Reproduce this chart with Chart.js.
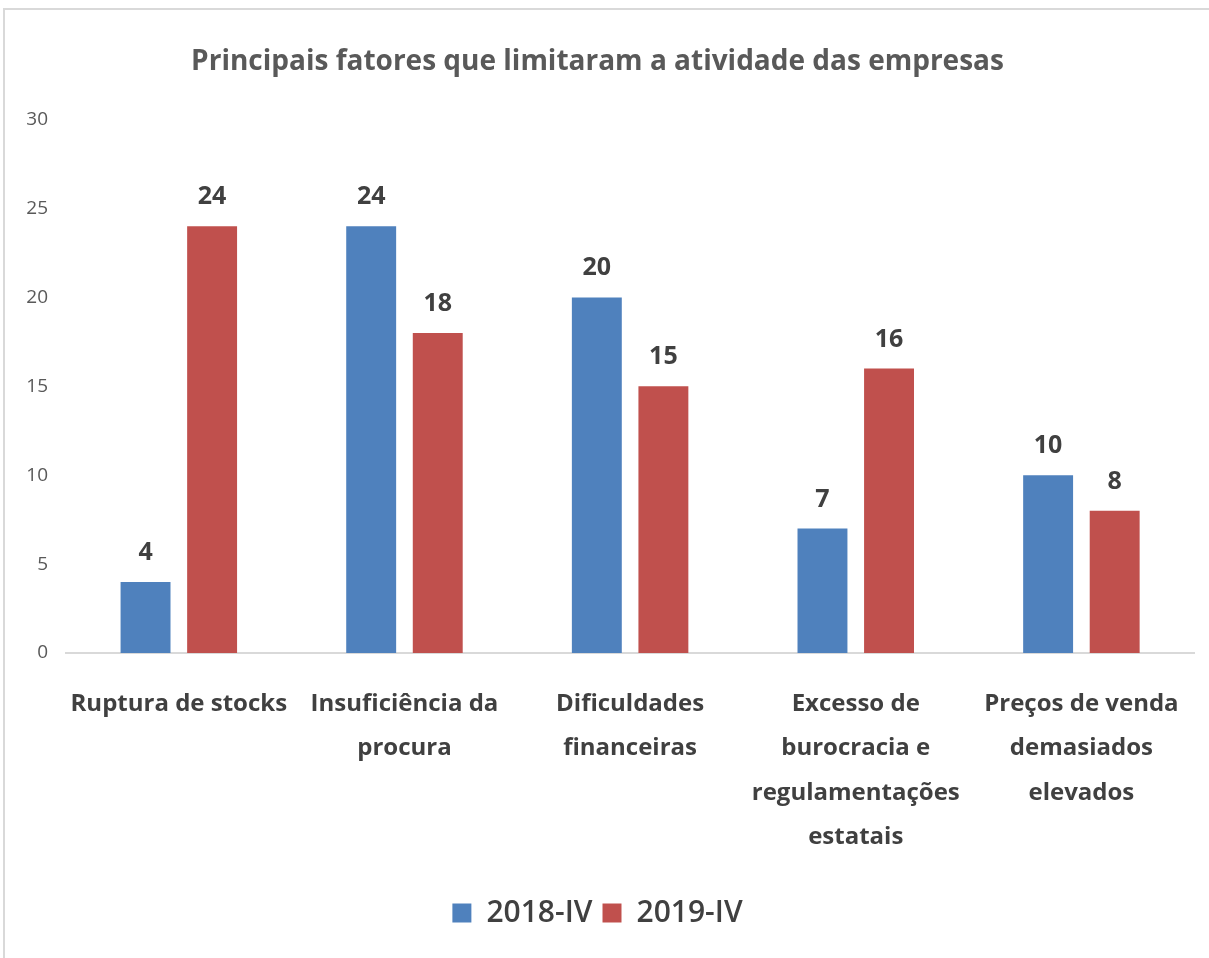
<!DOCTYPE html>
<html>
<head>
  <meta charset="utf-8">
  <title>Principais fatores que limitaram a atividade das empresas</title>
  <script src="https://cdn.jsdelivr.net/npm/chart.js"></script>
  <style>
    body { margin: 0; background: #fff; }
    .wrap { position: relative; width: 1209px; height: 958px; }
    .frame { position: absolute; left: 3px; top: 8px; right: 0; bottom: 0; border-left: 2px solid #d9d9d9; border-top: 2px solid #d9d9d9; pointer-events: none; }
  </style>
</head>
<body>
<div class="wrap">
  <canvas id="chart" width="1209" height="958"></canvas>
  <div class="frame"></div>
</div>
<script>
// data
const categories = [
  'Ruptura de stocks',
  ['Insuficiência da', 'procura'],
  ['Dificuldades', 'financeiras'],
  ['Excesso de', 'burocracia e', 'regulamentações', 'estatais'],
  ['Preços de venda', 'demasiados', 'elevados']
];
const seriesNames = ['2018-IV', '2019-IV'];
const values2018 = [4, 24, 20, 7, 10];
const values2019 = [24, 18, 15, 16, 8];
const yTicks = [0, 5, 10, 15, 20, 25, 30];

const FONT = "'Open Sans', sans-serif";

// value labels above each bar
const barLabels = {
  id: 'barLabels',
  afterDatasetsDraw(chart) {
    const ctx = chart.ctx;
    ctx.save();
    ctx.font = 'bold 25px ' + FONT;
    ctx.fillStyle = '#404040';
    ctx.textAlign = 'center';
    ctx.textBaseline = 'alphabetic';
    chart.data.datasets.forEach((ds, i) => {
      chart.getDatasetMeta(i).data.forEach((bar, j) => {
        ctx.fillText(ds.data[j], bar.x, bar.y - 22);
      });
    });
    ctx.restore();
  }
};

new Chart(document.getElementById('chart'), {
  type: 'bar',
  data: {
    labels: categories,
    datasets: [
      { label: seriesNames[0], data: values2018, backgroundColor: '#4F81BD' },
      { label: seriesNames[1], data: values2019, backgroundColor: '#C0504D' }
    ]
  },
  options: {
    responsive: false,
    animation: false,
    categoryPercentage: 0.59,
    barPercentage: 0.75,
    layout: { padding: { left: 0, right: 14, top: 0, bottom: 20 } },
    plugins: {
      tooltip: { enabled: false },
      title: {
        display: true,
        text: 'Principais fatores que limitaram a atividade das empresas',
        color: '#595959',
        font: { family: FONT, size: 28, weight: 'bold' },
        padding: { top: 45, bottom: 41 }
      },
      legend: {
        position: 'bottom',
        labels: {
          color: '#404040',
          font: { family: FONT, size: 30, weight: '600' },
          boxWidth: 19,
          boxHeight: 19,
          padding: 10
        }
      }
    },
    scales: {
      x: {
        grid: { display: false, drawTicks: false },
        border: { color: '#d9d9d9', width: 2 },
        ticks: {
          color: '#404040',
          font: { family: FONT, size: 24, weight: 'bold', lineHeight: 1.85 },
          padding: 29,
          maxRotation: 0,
          autoSkip: false
        },
        afterFit(scale) { scale.height = 235; }
      },
      y: {
        min: 0,
        max: 30,
        afterBuildTicks(scale) { scale.ticks = yTicks.map(v => ({ value: v })); },
        grid: { display: false, drawTicks: false },
        border: { display: false },
        ticks: {
          color: '#595959',
          font: { family: FONT, size: 19 },
          padding: 18
        },
        afterFit(scale) { scale.width = 66; }
      }
    }
  },
  plugins: [barLabels]
});
</script>
</body>
</html>
